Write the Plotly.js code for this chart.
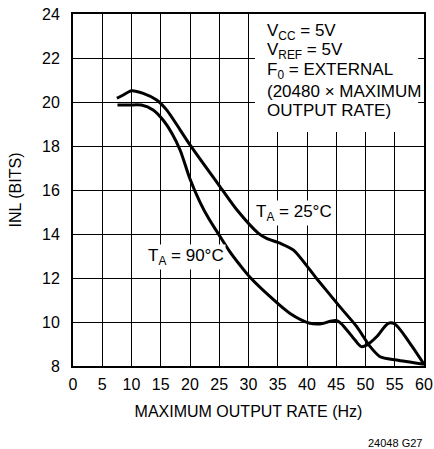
<!DOCTYPE html>
<html><head><meta charset="utf-8">
<script src="https://cdn.plot.ly/plotly-3.0.1.min.js"></script>
<style>html,body{margin:0;padding:0;background:#fff}#chart{width:434px;height:449px}</style>
</head><body><div id="chart"></div>
<script>
// Data
const x90 = [7.6, 9.5, 11.7, 13.7, 15.4, 16.9, 18.3, 20.0, 21.7, 23.2, 24.8, 26.8, 28.5, 30.3, 33.7, 37.1, 40.5, 42.2, 45.1, 46.8, 48.2, 49.3, 50.2, 51.9, 53.9, 55.0, 57.6, 60];
const y90 = [19.86, 19.86, 19.86, 19.64, 19.18, 18.58, 17.82, 16.5, 15.45, 14.7, 14.03, 13.2, 12.6, 12.02, 11.15, 10.39, 9.94, 9.91, 10.06, 9.64, 9.18, 8.88, 8.95, 9.33, 9.94, 9.91, 9.03, 8.08];
const x25 = [7.5, 8.6, 10.0, 12.0, 14.3, 16.0, 20.0, 25.0, 28.0, 31.7, 33.1, 35.4, 37.7, 41.6, 45.6, 48.5, 50.8, 52.5, 55.3, 60];
const y25 = [20.17, 20.32, 20.51, 20.39, 20.09, 19.64, 18.05, 16.2, 15.1, 14.03, 13.8, 13.58, 13.27, 11.99, 10.7, 9.79, 8.88, 8.42, 8.27, 8.08];
const xTicks = [0, 5, 10, 15, 20, 25, 30, 35, 40, 45, 50, 55, 60];
const yTicks = [8, 10, 12, 14, 16, 18, 20, 22, 24];
const noteLines = ["V<sub>CC</sub> = 5V", "V<sub>REF</sub> = 5V", "F<sub>0</sub> = EXTERNAL", "(20480 × MAXIMUM", "OUTPUT RATE)"];
const label25 = "T<sub>A</sub> = 25°C";
const label90 = "T<sub>A</sub> = 90°C";
const xTitle = "MAXIMUM OUTPUT RATE (Hz)";
const yTitle = "INL (BITS)";
const figId = "24048 G27";

const FONT = "'Liberation Sans', Arial, sans-serif";

const traces = [
  {x: x90, y: y90, mode: 'lines', line: {color: '#000', width: 3, shape: 'spline', smoothing: 0.9}, hoverinfo: 'skip'},
  {x: x25, y: y25, mode: 'lines', line: {color: '#000', width: 3, shape: 'spline', smoothing: 0.7}, hoverinfo: 'skip'}
];

// note lines placed one per row (row centres in data units)
const noteY = [23.2, 22.3, 21.4, 20.5, 19.6];
const noteAnns = noteLines.map((t, i) => ({
  xref: 'x', yref: 'y', x: 32.8, y: noteY[i], xanchor: 'left', yanchor: 'middle',
  text: t, align: 'left', showarrow: false, font: {size: 17}
}));

const layout = {
  width: 434, height: 449,
  margin: {l: 73, r: 10, t: 14, b: 83},
  paper_bgcolor: '#fff', plot_bgcolor: '#fff',
  showlegend: false,
  font: {family: FONT, color: '#000', size: 16},
  xaxis: {
    range: [0, 60], tickvals: xTicks, ticktext: xTicks.map(String),
    showgrid: true, gridcolor: '#000', gridwidth: 1,
    showline: true, linecolor: '#000', linewidth: 2, mirror: true,
    ticks: '', ticklabelstandoff: 3, zeroline: false, fixedrange: true,
    tickfont: {size: 16},
    title: {text: xTitle, font: {size: 16}, standoff: 14}
  },
  yaxis: {
    range: [8, 24], tickvals: yTicks, ticktext: yTicks.map(String),
    showgrid: true, gridcolor: '#000', gridwidth: 1,
    showline: true, linecolor: '#000', linewidth: 2, mirror: true,
    ticks: '', ticklabelstandoff: 8, zeroline: false, fixedrange: true,
    tickfont: {size: 16},
    title: {text: yTitle, font: {size: 16}, standoff: 16}
  },
  shapes: [
    {type: 'rect', xref: 'x', yref: 'y', x0: 31.1, x1: 59.0, y0: 18.64, y1: 24,
     fillcolor: '#fff', line: {width: 0}, layer: 'above'}
  ],
  annotations: noteAnns.concat([
    {xref: 'x', yref: 'y', x: 31.0, y: 14.95, xanchor: 'left', yanchor: 'middle',
     text: label25, showarrow: false, bgcolor: '#fff', borderpad: 1, font: {size: 17}},
    {xref: 'x', yref: 'y', x: 12.5, y: 12.95, xanchor: 'left', yanchor: 'middle',
     text: label90, showarrow: false, bgcolor: '#fff', borderpad: 1, font: {size: 17}},
    {xref: 'paper', yref: 'paper', x: 1, y: -0.219, xanchor: 'right', yanchor: 'middle',
     text: figId, showarrow: false, font: {size: 11}}
  ])
};

Plotly.newPlot('chart', traces, layout, {staticPlot: true, displayModeBar: false});
</script></body></html>
